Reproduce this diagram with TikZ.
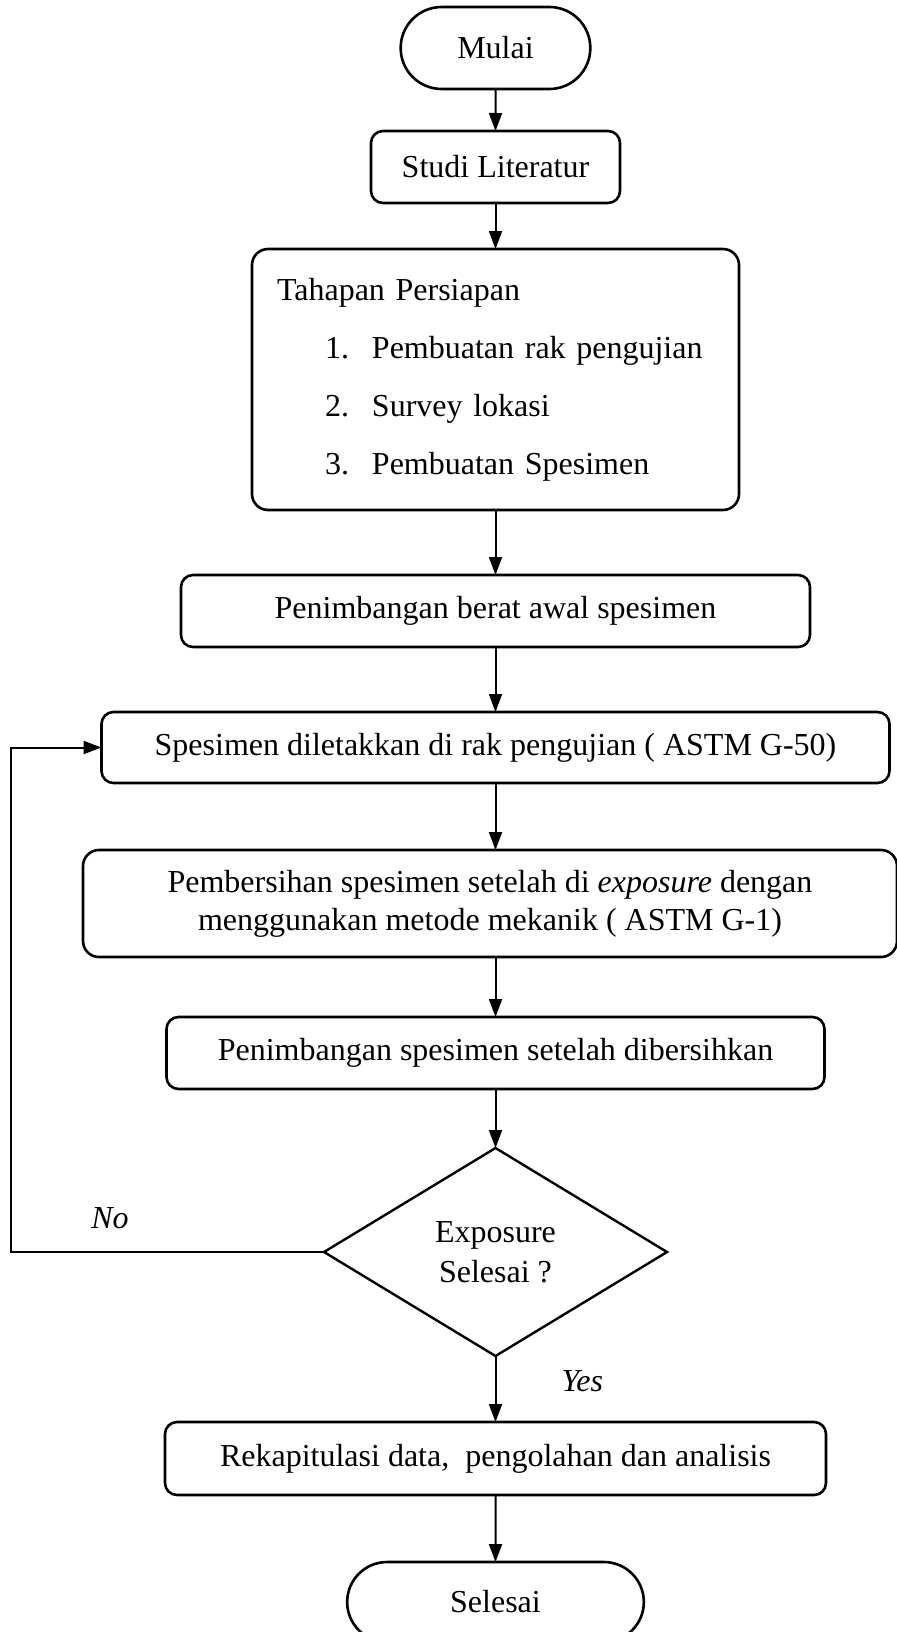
\documentclass[tikz,border=0pt]{standalone}
\usepackage{fontspec}
\setmainfont{Liberation Serif}
\usetikzlibrary{arrows.meta, positioning, shapes.geometric, shapes.misc}

\begin{document}
\begin{tikzpicture}[
      box/.style={rounded corners=6pt, draw, line width=1.3pt, outer sep=0pt,
                  align=center, font=\fontsize{16}{19}\selectfont},
      ujung/.style={rounded rectangle, draw, line width=1.3pt, outer sep=0pt,
                  font=\fontsize{16}{19}\selectfont},
      keputusan/.style={diamond, draw, line width=1.2pt, outer sep=0pt, inner sep=0pt,
                  shape aspect=1.65, align=center, font=\fontsize{16}{20}\selectfont},
      lbl/.style={font=\fontsize{16}{19}\selectfont\itshape, inner sep=0pt},
      >={Triangle[length=9pt, width=6.5pt]}, line width=1pt]
    \useasboundingbox (0,0) rectangle (448.5pt,-816pt);
    \node[ujung, minimum width=101.5pt, minimum height=41pt] (mulai) at (247.75pt,-24pt) {Mulai};
    \node[box, minimum width=124.5pt, minimum height=36pt, below=21pt of mulai] (studi) {Studi Literatur};
    \node[box, rounded corners=8pt, minimum height=130.5pt, text width=218.5pt, inner xsep=12.5pt,
          align=left, font=\fontsize{16}{29}\selectfont, below=23pt of studi] (siap)
          {Tahapan Persiapan\\
           \hspace*{24pt}\makebox[23.5pt][l]{1.}Pembuatan rak pengujian\\
           \hspace*{24pt}\makebox[23.5pt][l]{2.}Survey lokasi\\
           \hspace*{24pt}\makebox[23.5pt][l]{3.}Pembuatan Spesimen};
    \node[box, minimum width=314.5pt, minimum height=36pt, below=32.5pt of siap] (awal) {Penimbangan berat awal spesimen};
    \node[box, minimum width=394pt, minimum height=35.5pt, below=32.5pt of awal] (letak) {Spesimen diletakkan di rak pengujian ( ASTM G-50)};
    \node[box, rounded corners=8pt, minimum width=407pt, minimum height=53.5pt, below=33.5pt of letak, xshift=-2.75pt] (bersih)
          {Pembersihan spesimen setelah di \textit{exposure} dengan\\ menggunakan metode mekanik ( ASTM G-1)};
    \node[box, minimum width=329pt, minimum height=36pt, below=30pt of bersih, xshift=2.75pt] (akhir) {Penimbangan spesimen setelah dibersihkan};
    \node[keputusan, minimum width=171.5pt, minimum height=104pt, below=29.5pt of akhir] (cek) {Exposure\\ Selesai ?};
    \node[box, minimum width=330.5pt, minimum height=36.5pt, below=33pt of cek] (rekap) {Rekapitulasi data,\ \ pengolahan dan analisis};
    \node[ujung, minimum width=155pt, minimum height=40pt, below=33.5pt of rekap] (selesai) {Selesai};
    \coordinate (kiri) at (5.5pt,0);
    \draw[->] (mulai) -- (studi);
    \draw[->] (studi) -- (siap);
    \draw[->] (siap) -- (awal);
    \draw[->] (awal) -- (letak);
    \draw[->] (letak) -- (letak |- bersih.north);
    \draw[->] (akhir |- bersih.south) -- (akhir);
    \draw[->] (akhir) -- (cek);
    \draw[->] (cek) -- node[lbl, pos=0.38, right=32.5pt] (yes) {Yes} (rekap);
    \draw[->] (rekap) -- (selesai);
    \draw[->] (cek.west) -- (cek.west -| kiri) |- (letak.west);
    \node[lbl, above=11pt of cek.west, xshift=-107pt] (no) {No};
  \end{tikzpicture}
\end{document}
